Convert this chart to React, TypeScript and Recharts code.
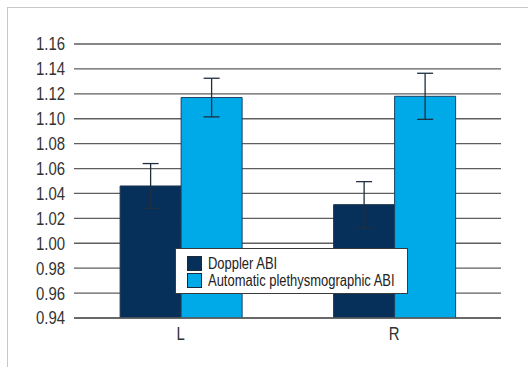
import React from "react";
import { BarChart, Bar, XAxis, YAxis, CartesianGrid, ErrorBar } from "recharts";

const categories = ["L", "R"];
const dopplerValues = [1.046, 1.031];
const dopplerErrors = [0.018, 0.0185];
const autoValues = [1.117, 1.118];
const autoErrors = [0.0155, 0.0185];
const yTicks = [0.94, 0.96, 0.98, 1.0, 1.02, 1.04, 1.06, 1.08, 1.1, 1.12, 1.14, 1.16];
const seriesNames = ["Doppler ABI", "Automatic plethysmographic ABI"];

const data = categories.map((c, i) => ({
  name: c,
  doppler: dopplerValues[i],
  dopplerErr: dopplerErrors[i],
  auto: autoValues[i],
  autoErr: autoErrors[i],
}));

const FONT = "'Liberation Sans', 'DejaVu Sans', sans-serif";
const DARK = "#06305a";
const LIGHT = "#00aae8";
const TEXT = "#333";

const LegendBox = () => (
  <div
    style={{
      position: "absolute",
      left: 175,
      top: 248,
      background: "#fff",
      border: "1px solid #3a3a3a",
      width: 233,
      height: 46,
      boxSizing: "border-box",
      padding: "6px 0 0 11px",
      fontFamily: FONT,
      fontSize: 16,
      color: "#222",
      lineHeight: "17px",
      whiteSpace: "nowrap",
    }}
  >
    {[DARK, LIGHT].map((col, i) => (
      <div key={i} style={{ display: "flex", alignItems: "center", height: 17 }}>
        <span
          style={{
            display: "inline-block",
            width: 13,
            height: 13,
            background: col,
            border: "1px solid #1a2a3a",
            marginRight: 6,
            flex: "none",
          }}
        />
        <span style={{ display: "inline-block", transform: "scaleX(0.81)", transformOrigin: "left center" }}>
          {seriesNames[i]}
        </span>
      </div>
    ))}
  </div>
);

const YTick = (props: any) => {
  const { x, y, payload } = props;
  return (
    <g transform={`translate(${x},${y})`}>
      <text transform="scale(0.83,1)" x={0} y={0} dy="0.36em" textAnchor="end" fontFamily={FONT} fontSize={18} fill={TEXT}>
        {Number(payload.value).toFixed(2)}
      </text>
    </g>
  );
};

const XTick = (props: any) => {
  const { x, y, payload } = props;
  return (
    <g transform={`translate(${x},${y})`}>
      <text transform="scale(0.83,1)" x={0} y={0} dy="0.71em" textAnchor="middle" fontFamily={FONT} fontSize={18} fill={TEXT}>
        {payload.value}
      </text>
    </g>
  );
};

export default function App() {
  return (
    <div style={{ position: "absolute", left: 0, top: 0, width: 528, height: 367, background: "#fff", overflow: "hidden" }}>
      <div
        style={{
          position: "absolute",
          left: 7,
          top: 7,
          width: 530,
          height: 370,
          borderLeft: "1px solid #c8c8c8",
          borderTop: "1px solid #c8c8c8",
        }}
      />
      <BarChart
        width={528}
        height={367}
        data={data}
        margin={{ top: 44, right: 27, bottom: 19, left: 8 }}
        barCategoryGap="21.6%"
        barGap={0}
        style={{ position: "absolute", left: 0, top: 0 }}
      >
        <CartesianGrid vertical={false} stroke="#5e5e5e" strokeWidth={1.3} />
        <XAxis
          dataKey="name"
          height={30}
          axisLine={{ stroke: "#5e5e5e", strokeWidth: 1.3 }}
          tickLine={false}
          tickSize={0}
          tickMargin={9}
          tick={<XTick />}
        />
        <YAxis
          width={66}
          domain={[0.94, 1.16]}
          ticks={yTicks}
          interval={0}
          axisLine={false}
          tickLine={false}
          tickSize={0}
          tickMargin={9}
          allowDataOverflow
          tick={<YTick />}
        />
        <Bar dataKey="doppler" name={seriesNames[0]} fill={DARK} stroke="#1c3550" strokeWidth={1} isAnimationActive={false}>
          <ErrorBar dataKey="dopplerErr" width={8} stroke="#1f2f3f" strokeWidth={1.3} />
        </Bar>
        <Bar dataKey="auto" name={seriesNames[1]} fill={LIGHT} stroke="#1c4060" strokeWidth={1} isAnimationActive={false}>
          <ErrorBar dataKey="autoErr" width={8} stroke="#1f2f3f" strokeWidth={1.3} />
        </Bar>
      </BarChart>
      <LegendBox />
    </div>
  );
}
